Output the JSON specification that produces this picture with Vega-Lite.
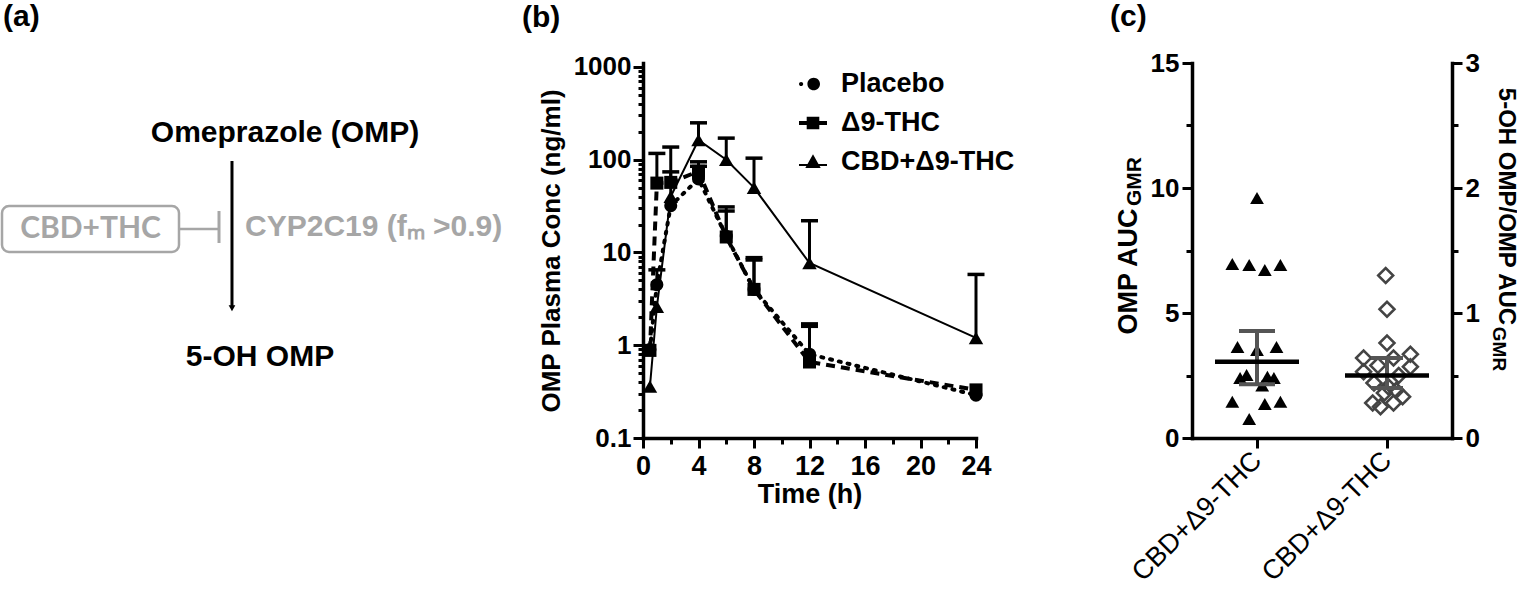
{
  "$schema": "https://vega.github.io/schema/vega-lite/v6.json",
  "padding": {"top": 2, "left": 0, "right": 0, "bottom": 0},
  "background": "white",
  "spacing": 216,
  "bounds": "flush",
  "resolve": {"legend": {"shape": "independent"}},
  "config": {
    "view": {"stroke": null, "fill": "white"},
    "font": "Liberation Sans",
    "axis": {
      "domainColor": "black", "domainWidth": 3.5, "domainCap": "square",
      "tickColor": "black", "tickWidth": 3,
      "labelColor": "black", "titleColor": "black",
      "labelFont": "Liberation Sans", "titleFont": "Liberation Sans",
      "labelFontWeight": "bold", "titleFontWeight": "bold",
      "labelFontSize": 26, "titleFontSize": 27,
      "grid": false, "labelOverlap": false, "labelFlush": false
    },
    "title": {"font": "Liberation Sans", "fontSize": 30, "fontWeight": "bold", "color": "black", "anchor": "start", "frame": "group"}
  },
  "datasets": {
    "pk": [
      {"t": 0.5, "series": "Placebo", "conc": 0.9, "upper": null},
      {"t": 1, "series": "Placebo", "conc": 4.5, "upper": 6.5},
      {"t": 2, "series": "Placebo", "conc": 32, "upper": 74},
      {"t": 4, "series": "Placebo", "conc": 62, "upper": 85},
      {"t": 6, "series": "Placebo", "conc": 15, "upper": 28},
      {"t": 8, "series": "Placebo", "conc": 4.0, "upper": 8.3},
      {"t": 12, "series": "Placebo", "conc": 0.8, "upper": 1.6},
      {"t": 24, "series": "Placebo", "conc": 0.29, "upper": null},
      {"t": 0.5, "series": "Δ9-THC", "conc": 0.88, "upper": null},
      {"t": 1, "series": "Δ9-THC", "conc": 56, "upper": 117},
      {"t": 2, "series": "Δ9-THC", "conc": 57, "upper": 137},
      {"t": 4, "series": "Δ9-THC", "conc": 75, "upper": 95},
      {"t": 6, "series": "Δ9-THC", "conc": 14.7, "upper": 31},
      {"t": 8, "series": "Δ9-THC", "conc": 4.0, "upper": 8.8},
      {"t": 12, "series": "Δ9-THC", "conc": 0.66, "upper": 1.7},
      {"t": 24, "series": "Δ9-THC", "conc": 0.33, "upper": null},
      {"t": 0.5, "series": "CBD+Δ9-THC", "conc": 0.36, "upper": null},
      {"t": 1, "series": "CBD+Δ9-THC", "conc": 2.6, "upper": null},
      {"t": 2, "series": "CBD+Δ9-THC", "conc": 40, "upper": null},
      {"t": 4, "series": "CBD+Δ9-THC", "conc": 163, "upper": 250},
      {"t": 6, "series": "CBD+Δ9-THC", "conc": 100, "upper": 171},
      {"t": 8, "series": "CBD+Δ9-THC", "conc": 50, "upper": 104},
      {"t": 12, "series": "CBD+Δ9-THC", "conc": 7.7, "upper": 22},
      {"t": 24, "series": "CBD+Δ9-THC", "conc": 1.2, "upper": 5.8}
    ],
    "auc": [
      {"group_x": 0.5, "auc": 9.6}, {"group_x": 0.31, "auc": 6.96}, {"group_x": 0.44, "auc": 6.92},
      {"group_x": 0.56, "auc": 6.72}, {"group_x": 0.68, "auc": 6.92}, {"group_x": 0.35, "auc": 3.64},
      {"group_x": 0.5, "auc": 3.52}, {"group_x": 0.65, "auc": 3.64}, {"group_x": 0.37, "auc": 2.4},
      {"group_x": 0.42, "auc": 2.52}, {"group_x": 0.58, "auc": 2.45}, {"group_x": 0.63, "auc": 2.4},
      {"group_x": 0.54, "auc": 2.1}, {"group_x": 0.31, "auc": 1.45}, {"group_x": 0.56, "auc": 1.36},
      {"group_x": 0.68, "auc": 1.45}, {"group_x": 0.44, "auc": 0.76}
    ],
    "ratio": [
      {"group_x": 1.49, "ratio": 1.30}, {"group_x": 1.5, "ratio": 1.03}, {"group_x": 1.5, "ratio": 0.76},
      {"group_x": 1.32, "ratio": 0.64}, {"group_x": 1.68, "ratio": 0.67}, {"group_x": 1.55, "ratio": 0.64},
      {"group_x": 1.68, "ratio": 0.57}, {"group_x": 1.43, "ratio": 0.58}, {"group_x": 1.32, "ratio": 0.53},
      {"group_x": 1.59, "ratio": 0.50}, {"group_x": 1.40, "ratio": 0.44}, {"group_x": 1.51, "ratio": 0.41},
      {"group_x": 1.62, "ratio": 0.33}, {"group_x": 1.39, "ratio": 0.28}, {"group_x": 1.55, "ratio": 0.28},
      {"group_x": 1.45, "ratio": 0.25}, {"group_x": 1.48, "ratio": 0.36}, {"group_x": 1.57, "ratio": 0.38}
    ],
    "auc_stats": [{"group_x": 0.5, "mean": 3.05, "lo": 2.15, "hi": 4.28}],
    "ratio_stats": [{"group_x": 1.5, "mean": 0.5, "lo": 0.4, "hi": 0.64}]
  },
  "hconcat": [
    {
      "width": 427, "height": 375,
      "title": {"text": "(a)", "offset": 31, "dx": 3},
      "data": {"values": [{}]},
      "layer": [
        {"mark": {"type": "text", "text": "Omeprazole (OMP)", "font": "Liberation Sans", "fontWeight": "bold", "fontSize": 30, "align": "center", "baseline": "middle", "color": "black"},
         "encoding": {"x": {"datum": 66.74, "type": "quantitative", "scale": {"domain": [0, 100]}, "axis": null},
                      "y": {"datum": 18.67, "type": "quantitative", "scale": {"domain": [0, 100], "reverse": true}, "axis": null}}},
        {"mark": {"type": "rule", "strokeWidth": 3, "color": "black"},
         "encoding": {"x": {"datum": 54.33, "type": "quantitative", "scale": {"domain": [0, 100]}, "axis": null},
                      "y": {"datum": 26.13, "type": "quantitative", "scale": {"domain": [0, 100], "reverse": true}, "axis": null},
                      "y2": {"datum": 65.0}}},
        {"mark": {"type": "point", "shape": "triangle-down", "filled": true, "size": 45, "color": "black", "opacity": 1},
         "encoding": {"x": {"datum": 54.33, "type": "quantitative", "scale": {"domain": [0, 100]}, "axis": null},
                      "y": {"datum": 65.4, "type": "quantitative", "scale": {"domain": [0, 100], "reverse": true}, "axis": null}}},
        {"mark": {"type": "rect", "filled": false, "stroke": "#a6a6a6", "strokeWidth": 2.5, "cornerRadius": 7},
         "encoding": {"x": {"datum": 0.47, "type": "quantitative", "scale": {"domain": [0, 100]}, "axis": null}, "x2": {"datum": 41.92},
                      "y": {"datum": 38.13, "type": "quantitative", "scale": {"domain": [0, 100], "reverse": true}, "axis": null}, "y2": {"datum": 50.4}}},
        {"mark": {"type": "text", "text": "CBD+THC", "font": "Lato", "fontWeight": "bold", "fontSize": 30, "align": "center", "baseline": "middle", "color": "#a6a6a6"},
         "encoding": {"x": {"datum": 21.2, "type": "quantitative", "scale": {"domain": [0, 100]}, "axis": null},
                      "y": {"datum": 44.27, "type": "quantitative", "scale": {"domain": [0, 100], "reverse": true}, "axis": null}}},
        {"mark": {"type": "rule", "strokeWidth": 2.5, "color": "#a6a6a6"},
         "encoding": {"x": {"datum": 41.92, "type": "quantitative", "scale": {"domain": [0, 100]}, "axis": null}, "x2": {"datum": 51.29},
                      "y": {"datum": 44.27, "type": "quantitative", "scale": {"domain": [0, 100], "reverse": true}, "axis": null}}},
        {"mark": {"type": "rule", "strokeWidth": 3, "color": "#a6a6a6"},
         "encoding": {"x": {"datum": 51.29, "type": "quantitative", "scale": {"domain": [0, 100]}, "axis": null},
                      "y": {"datum": 39.47, "type": "quantitative", "scale": {"domain": [0, 100], "reverse": true}, "axis": null}, "y2": {"datum": 48.0}}},
        {"mark": {"type": "text", "text": "CYP2C19 (fₘ >0.9)", "font": "Liberation Sans", "fontWeight": "bold", "fontSize": 30, "align": "left", "baseline": "middle", "color": "#a6a6a6"},
         "encoding": {"x": {"datum": 57.38, "type": "quantitative", "scale": {"domain": [0, 100]}, "axis": null},
                      "y": {"datum": 43.73, "type": "quantitative", "scale": {"domain": [0, 100], "reverse": true}, "axis": null}}},
        {"mark": {"type": "text", "text": "5-OH OMP", "font": "Liberation Sans", "fontWeight": "bold", "fontSize": 30, "align": "center", "baseline": "middle", "color": "black"},
         "encoding": {"x": {"datum": 60.89, "type": "quantitative", "scale": {"domain": [0, 100]}, "axis": null},
                      "y": {"datum": 78.4, "type": "quantitative", "scale": {"domain": [0, 100], "reverse": true}, "axis": null}}}
      ]
    },
    {
      "width": 333, "height": 375,
      "title": {"text": "(b)", "offset": 21, "dx": -121},
      "data": {"name": "pk"},
      "encoding": {
        "x": {"field": "t", "type": "quantitative", "scale": {"domain": [0, 24], "nice": false},
              "axis": {"values": [0, 2, 4, 6, 8, 10, 12, 14, 16, 18, 20, 22, 24],
                       "labelExpr": "datum.value % 4 === 0 ? datum.label : ''",
                       "tickSize": {"condition": {"test": "datum.value % 4 === 0", "value": 10}, "value": 6},
                       "labelFontSize": 27, "labelPadding": 5, "title": "Time (h)", "titlePadding": 2}},
        "y": {"field": "conc", "type": "quantitative", "scale": {"type": "log", "domain": [0.1, 1104], "nice": false},
              "axis": {"values": [0.1, 0.2, 0.3, 0.4, 0.5, 0.6, 0.7, 0.8, 0.9, 1, 2, 3, 4, 5, 6, 7, 8, 9, 10, 20, 30, 40, 50, 60, 70, 80, 90, 100, 200, 300, 400, 500, 600, 700, 800, 900, 1000],
                       "format": "~g",
                       "labelExpr": "indexof([0.1, 1, 10, 100, 1000], datum.value) >= 0 ? datum.label : ''",
                       "tickSize": {"condition": {"test": "indexof([0.1, 1, 10, 100, 1000], datum.value) >= 0", "value": 10}, "value": 5},
                       "labelPadding": 2, "title": "OMP Plasma Conc (ng/ml)", "titleFontSize": 26, "titlePadding": 9}}
      },
      "layer": [
        {"transform": [{"filter": "isValid(datum.upper)"}],
         "mark": {"type": "rule", "strokeWidth": 3, "color": "black"},
         "encoding": {"y2": {"field": "upper"}}},
        {"transform": [{"filter": "isValid(datum.upper)"}],
         "mark": {"type": "tick", "orient": "horizontal", "size": 17, "thickness": 3.5, "color": "black", "opacity": 1},
         "encoding": {"y": {"field": "upper", "type": "quantitative", "scale": {"type": "log", "domain": [0.1, 1104], "nice": false},
              "axis": {"values": [0.1, 0.2, 0.3, 0.4, 0.5, 0.6, 0.7, 0.8, 0.9, 1, 2, 3, 4, 5, 6, 7, 8, 9, 10, 20, 30, 40, 50, 60, 70, 80, 90, 100, 200, 300, 400, 500, 600, 700, 800, 900, 1000],
                       "format": "~g",
                       "labelExpr": "indexof([0.1, 1, 10, 100, 1000], datum.value) >= 0 ? datum.label : ''",
                       "tickSize": {"condition": {"test": "indexof([0.1, 1, 10, 100, 1000], datum.value) >= 0", "value": 10}, "value": 5},
                       "labelPadding": 2, "title": "OMP Plasma Conc (ng/ml)", "titleFontSize": 26, "titlePadding": 9}}}},
        {"transform": [{"filter": "datum.series === 'Placebo'"}],
         "mark": {"type": "line", "color": "black", "strokeWidth": 4, "strokeDash": [2, 7], "strokeCap": "round"}},
        {"transform": [{"filter": "datum.series === 'Δ9-THC'"}],
         "mark": {"type": "line", "color": "black", "strokeWidth": 4, "strokeDash": [9, 6]}},
        {"transform": [{"filter": "datum.series === 'CBD+Δ9-THC'"}],
         "mark": {"type": "line", "color": "black", "strokeWidth": 2}},
        {"transform": [{"filter": "datum.series === 'Placebo'"}],
         "mark": {"type": "point", "shape": "circle", "filled": true, "opacity": 1, "color": "black", "size": 170}},
        {"transform": [{"filter": "datum.series === 'Δ9-THC'"}],
         "mark": {"type": "point", "shape": "square", "filled": true, "opacity": 1, "color": "black", "size": 170}},
        {"transform": [{"filter": "datum.series === 'CBD+Δ9-THC'"}],
         "mark": {"type": "point", "shape": "triangle-up", "filled": true, "opacity": 1, "color": "black", "size": 210}},
        {"transform": [{"filter": "false"}],
         "mark": {"type": "point", "filled": true, "opacity": 1, "color": "black"},
         "encoding": {
           "shape": {"field": "series", "type": "nominal",
                     "scale": {"domain": ["Placebo", "Δ9-THC", "CBD+Δ9-THC"],
                               "range": ["M-0.4,0A0.45,0.45 0 1,1 0.5,0A0.45,0.45 0 1,1 -0.4,0ZM-1,0A0.15,0.15 0 1,1 -0.7,0A0.15,0.15 0 1,1 -1,0Z",
                                         "M-0.45,-0.45H0.45V0.45H-0.45ZM-1,-0.15H1V0.15H-1Z",
                                         "M0,-0.55L0.55,0.42L-0.55,0.42ZM-1,0.14H1V0.28H-1Z"]},
                     "legend": {"title": null, "orient": "none", "legendX": 156, "legendY": 7, "padding": 0,
                                "labelFont": "Liberation Sans", "labelFontSize": 27, "labelFontWeight": "bold", "labelColor": "black",
                                "labelOffset": 14, "labelLimit": 400, "rowPadding": 12, "symbolSize": 784,
                                "symbolFillColor": "black", "symbolStrokeWidth": 0, "symbolOpacity": 1}}
         }}
      ]
    },
    {
      "width": 260, "height": 375,
      "title": {"text": "(c)", "offset": 18, "dx": -82},
      "layer": [
        {
          "layer": [
            {"data": {"name": "auc"},
             "mark": {"type": "point", "shape": "triangle-up", "filled": true, "size": 190, "color": "black", "opacity": 1},
             "encoding": {
               "x": {"field": "group_x", "type": "quantitative", "scale": {"domain": [0, 2], "nice": false},
                     "axis": {"values": [0.5, 1.5], "labelExpr": "'CBD+Δ9-THC'", "labelAngle": -45, "labelAlign": "right", "labelBaseline": "middle", "labelFontWeight": "normal", "labelFontSize": 27, "labelPadding": 8, "tickSize": 10, "title": null}},
               "y": {"field": "auc", "type": "quantitative", "scale": {"domain": [0, 15], "nice": false},
                     "axis": {"orient": "left", "values": [0, 2.5, 5, 7.5, 10, 12.5, 15], "labelExpr": "datum.value % 5 === 0 ? datum.label : ''", "tickSize": {"condition": {"test": "datum.value % 5 === 0", "value": 10}, "value": 6}, "labelPadding": 3, "title": "OMP AUC", "titleAngle": 270, "titleX": -64, "titleY": 208, "titleAlign": "center", "titleBaseline": "middle"}}}},
            {"data": {"name": "auc_stats"},
             "mark": {"type": "rule", "color": "#555555", "strokeWidth": 4},
             "encoding": {
               "x": {"field": "group_x", "type": "quantitative", "scale": {"domain": [0, 2], "nice": false},
                     "axis": {"values": [0.5, 1.5], "labelExpr": "'CBD+Δ9-THC'", "labelAngle": -45, "labelAlign": "right", "labelBaseline": "middle", "labelFontWeight": "normal", "labelFontSize": 27, "labelPadding": 8, "tickSize": 10, "title": null}},
               "y": {"field": "lo", "type": "quantitative", "scale": {"domain": [0, 15], "nice": false},
                     "axis": {"orient": "left", "values": [0, 2.5, 5, 7.5, 10, 12.5, 15], "labelExpr": "datum.value % 5 === 0 ? datum.label : ''", "tickSize": {"condition": {"test": "datum.value % 5 === 0", "value": 10}, "value": 6}, "labelPadding": 3, "title": "OMP AUC", "titleAngle": 270, "titleX": -64, "titleY": 208, "titleAlign": "center", "titleBaseline": "middle"}},
               "y2": {"field": "hi"}}},
            {"data": {"name": "auc_stats"},
             "mark": {"type": "tick", "orient": "horizontal", "size": 36, "thickness": 4, "color": "#555555", "opacity": 1},
             "encoding": {
               "x": {"field": "group_x", "type": "quantitative", "scale": {"domain": [0, 2], "nice": false},
                     "axis": {"values": [0.5, 1.5], "labelExpr": "'CBD+Δ9-THC'", "labelAngle": -45, "labelAlign": "right", "labelBaseline": "middle", "labelFontWeight": "normal", "labelFontSize": 27, "labelPadding": 8, "tickSize": 10, "title": null}},
               "y": {"field": "lo", "type": "quantitative", "scale": {"domain": [0, 15], "nice": false},
                     "axis": {"orient": "left", "values": [0, 2.5, 5, 7.5, 10, 12.5, 15], "labelExpr": "datum.value % 5 === 0 ? datum.label : ''", "tickSize": {"condition": {"test": "datum.value % 5 === 0", "value": 10}, "value": 6}, "labelPadding": 3, "title": "OMP AUC", "titleAngle": 270, "titleX": -64, "titleY": 208, "titleAlign": "center", "titleBaseline": "middle"}}}},
            {"data": {"name": "auc_stats"},
             "mark": {"type": "tick", "orient": "horizontal", "size": 36, "thickness": 4, "color": "#555555", "opacity": 1},
             "encoding": {
               "x": {"field": "group_x", "type": "quantitative", "scale": {"domain": [0, 2], "nice": false},
                     "axis": {"values": [0.5, 1.5], "labelExpr": "'CBD+Δ9-THC'", "labelAngle": -45, "labelAlign": "right", "labelBaseline": "middle", "labelFontWeight": "normal", "labelFontSize": 27, "labelPadding": 8, "tickSize": 10, "title": null}},
               "y": {"field": "hi", "type": "quantitative", "scale": {"domain": [0, 15], "nice": false},
                     "axis": {"orient": "left", "values": [0, 2.5, 5, 7.5, 10, 12.5, 15], "labelExpr": "datum.value % 5 === 0 ? datum.label : ''", "tickSize": {"condition": {"test": "datum.value % 5 === 0", "value": 10}, "value": 6}, "labelPadding": 3, "title": "OMP AUC", "titleAngle": 270, "titleX": -64, "titleY": 208, "titleAlign": "center", "titleBaseline": "middle"}}}},
            {"data": {"name": "auc_stats"},
             "mark": {"type": "tick", "orient": "horizontal", "size": 84, "thickness": 4.5, "color": "black", "opacity": 1},
             "encoding": {
               "x": {"field": "group_x", "type": "quantitative", "scale": {"domain": [0, 2], "nice": false},
                     "axis": {"values": [0.5, 1.5], "labelExpr": "'CBD+Δ9-THC'", "labelAngle": -45, "labelAlign": "right", "labelBaseline": "middle", "labelFontWeight": "normal", "labelFontSize": 27, "labelPadding": 8, "tickSize": 10, "title": null}},
               "y": {"field": "mean", "type": "quantitative", "scale": {"domain": [0, 15], "nice": false},
                     "axis": {"orient": "left", "values": [0, 2.5, 5, 7.5, 10, 12.5, 15], "labelExpr": "datum.value % 5 === 0 ? datum.label : ''", "tickSize": {"condition": {"test": "datum.value % 5 === 0", "value": 10}, "value": 6}, "labelPadding": 3, "title": "OMP AUC", "titleAngle": 270, "titleX": -64, "titleY": 208, "titleAlign": "center", "titleBaseline": "middle"}}}},
            {"data": {"values": [{}]},
             "mark": {"type": "text", "text": "GMR", "angle": 270, "font": "Liberation Sans", "fontWeight": "bold", "fontSize": 21, "align": "center", "baseline": "middle", "color": "black"},
             "encoding": {
               "x": {"datum": -0.44, "type": "quantitative", "scale": {"domain": [0, 2], "nice": false},
                     "axis": {"values": [0.5, 1.5], "labelExpr": "'CBD+Δ9-THC'", "labelAngle": -45, "labelAlign": "right", "labelBaseline": "middle", "labelFontWeight": "normal", "labelFontSize": 27, "labelPadding": 8, "tickSize": 10, "title": null}},
               "y": {"datum": 10.26, "type": "quantitative", "scale": {"domain": [0, 15], "nice": false},
                     "axis": {"orient": "left", "values": [0, 2.5, 5, 7.5, 10, 12.5, 15], "labelExpr": "datum.value % 5 === 0 ? datum.label : ''", "tickSize": {"condition": {"test": "datum.value % 5 === 0", "value": 10}, "value": 6}, "labelPadding": 3, "title": "OMP AUC", "titleAngle": 270, "titleX": -64, "titleY": 208, "titleAlign": "center", "titleBaseline": "middle"}}}}
          ]
        },
        {
          "layer": [
            {"data": {"name": "ratio"},
             "mark": {"type": "point", "shape": "diamond", "filled": false, "size": 225, "stroke": "#444444", "strokeWidth": 2.5, "opacity": 1},
             "encoding": {
               "x": {"field": "group_x", "type": "quantitative", "scale": {"domain": [0, 2], "nice": false},
                     "axis": {"values": [0.5, 1.5], "labelExpr": "'CBD+Δ9-THC'", "labelAngle": -45, "labelAlign": "right", "labelBaseline": "middle", "labelFontWeight": "normal", "labelFontSize": 27, "labelPadding": 8, "tickSize": 10, "title": null}},
               "y": {"field": "ratio", "type": "quantitative", "scale": {"domain": [0, 3], "nice": false},
                     "axis": {"orient": "right", "values": [0, 0.5, 1, 1.5, 2, 2.5, 3], "format": "~g", "labelExpr": "datum.value % 1 === 0 ? datum.label : ''", "tickSize": {"condition": {"test": "datum.value % 1 === 0", "value": 10}, "value": 6}, "labelPadding": 3, "title": "5-OH OMP/OMP AUC", "titleFontSize": 24, "titleAngle": 90, "titleX": 53, "titleY": 143, "titleAlign": "center", "titleBaseline": "middle"}}}},
            {"data": {"name": "ratio_stats"},
             "mark": {"type": "rule", "color": "#555555", "strokeWidth": 4},
             "encoding": {
               "x": {"field": "group_x", "type": "quantitative", "scale": {"domain": [0, 2], "nice": false},
                     "axis": {"values": [0.5, 1.5], "labelExpr": "'CBD+Δ9-THC'", "labelAngle": -45, "labelAlign": "right", "labelBaseline": "middle", "labelFontWeight": "normal", "labelFontSize": 27, "labelPadding": 8, "tickSize": 10, "title": null}},
               "y": {"field": "lo", "type": "quantitative", "scale": {"domain": [0, 3], "nice": false},
                     "axis": {"orient": "right", "values": [0, 0.5, 1, 1.5, 2, 2.5, 3], "format": "~g", "labelExpr": "datum.value % 1 === 0 ? datum.label : ''", "tickSize": {"condition": {"test": "datum.value % 1 === 0", "value": 10}, "value": 6}, "labelPadding": 3, "title": "5-OH OMP/OMP AUC", "titleFontSize": 24, "titleAngle": 90, "titleX": 53, "titleY": 143, "titleAlign": "center", "titleBaseline": "middle"}},
               "y2": {"field": "hi"}}},
            {"data": {"name": "ratio_stats"},
             "mark": {"type": "tick", "orient": "horizontal", "size": 32, "thickness": 4, "color": "#555555", "opacity": 1},
             "encoding": {
               "x": {"field": "group_x", "type": "quantitative", "scale": {"domain": [0, 2], "nice": false},
                     "axis": {"values": [0.5, 1.5], "labelExpr": "'CBD+Δ9-THC'", "labelAngle": -45, "labelAlign": "right", "labelBaseline": "middle", "labelFontWeight": "normal", "labelFontSize": 27, "labelPadding": 8, "tickSize": 10, "title": null}},
               "y": {"field": "lo", "type": "quantitative", "scale": {"domain": [0, 3], "nice": false},
                     "axis": {"orient": "right", "values": [0, 0.5, 1, 1.5, 2, 2.5, 3], "format": "~g", "labelExpr": "datum.value % 1 === 0 ? datum.label : ''", "tickSize": {"condition": {"test": "datum.value % 1 === 0", "value": 10}, "value": 6}, "labelPadding": 3, "title": "5-OH OMP/OMP AUC", "titleFontSize": 24, "titleAngle": 90, "titleX": 53, "titleY": 143, "titleAlign": "center", "titleBaseline": "middle"}}}},
            {"data": {"name": "ratio_stats"},
             "mark": {"type": "tick", "orient": "horizontal", "size": 32, "thickness": 4, "color": "#555555", "opacity": 1},
             "encoding": {
               "x": {"field": "group_x", "type": "quantitative", "scale": {"domain": [0, 2], "nice": false},
                     "axis": {"values": [0.5, 1.5], "labelExpr": "'CBD+Δ9-THC'", "labelAngle": -45, "labelAlign": "right", "labelBaseline": "middle", "labelFontWeight": "normal", "labelFontSize": 27, "labelPadding": 8, "tickSize": 10, "title": null}},
               "y": {"field": "hi", "type": "quantitative", "scale": {"domain": [0, 3], "nice": false},
                     "axis": {"orient": "right", "values": [0, 0.5, 1, 1.5, 2, 2.5, 3], "format": "~g", "labelExpr": "datum.value % 1 === 0 ? datum.label : ''", "tickSize": {"condition": {"test": "datum.value % 1 === 0", "value": 10}, "value": 6}, "labelPadding": 3, "title": "5-OH OMP/OMP AUC", "titleFontSize": 24, "titleAngle": 90, "titleX": 53, "titleY": 143, "titleAlign": "center", "titleBaseline": "middle"}}}},
            {"data": {"name": "ratio_stats"},
             "mark": {"type": "tick", "orient": "horizontal", "size": 84, "thickness": 4.5, "color": "black", "opacity": 1},
             "encoding": {
               "x": {"field": "group_x", "type": "quantitative", "scale": {"domain": [0, 2], "nice": false},
                     "axis": {"values": [0.5, 1.5], "labelExpr": "'CBD+Δ9-THC'", "labelAngle": -45, "labelAlign": "right", "labelBaseline": "middle", "labelFontWeight": "normal", "labelFontSize": 27, "labelPadding": 8, "tickSize": 10, "title": null}},
               "y": {"field": "mean", "type": "quantitative", "scale": {"domain": [0, 3], "nice": false},
                     "axis": {"orient": "right", "values": [0, 0.5, 1, 1.5, 2, 2.5, 3], "format": "~g", "labelExpr": "datum.value % 1 === 0 ? datum.label : ''", "tickSize": {"condition": {"test": "datum.value % 1 === 0", "value": 10}, "value": 6}, "labelPadding": 3, "title": "5-OH OMP/OMP AUC", "titleFontSize": 24, "titleAngle": 90, "titleX": 53, "titleY": 143, "titleAlign": "center", "titleBaseline": "middle"}}}},
            {"data": {"values": [{}]},
             "mark": {"type": "text", "text": "GMR", "angle": 90, "font": "Liberation Sans", "fontWeight": "bold", "fontSize": 19, "align": "center", "baseline": "middle", "color": "black"},
             "encoding": {
               "x": {"datum": 2.365, "type": "quantitative", "scale": {"domain": [0, 2], "nice": false},
                     "axis": {"values": [0.5, 1.5], "labelExpr": "'CBD+Δ9-THC'", "labelAngle": -45, "labelAlign": "right", "labelBaseline": "middle", "labelFontWeight": "normal", "labelFontSize": 27, "labelPadding": 8, "tickSize": 10, "title": null}},
               "y": {"datum": 0.712, "type": "quantitative", "scale": {"domain": [0, 3], "nice": false},
                     "axis": {"orient": "right", "values": [0, 0.5, 1, 1.5, 2, 2.5, 3], "format": "~g", "labelExpr": "datum.value % 1 === 0 ? datum.label : ''", "tickSize": {"condition": {"test": "datum.value % 1 === 0", "value": 10}, "value": 6}, "labelPadding": 3, "title": "5-OH OMP/OMP AUC", "titleFontSize": 24, "titleAngle": 90, "titleX": 53, "titleY": 143, "titleAlign": "center", "titleBaseline": "middle"}}}}
          ]
        }
      ],
      "resolve": {"scale": {"y": "independent"}}
    }
  ]
}
